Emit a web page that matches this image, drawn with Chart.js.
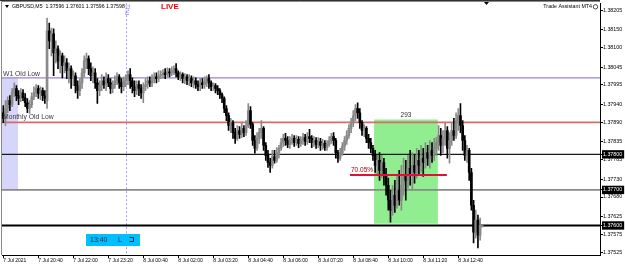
<!DOCTYPE html>
<html>
<head>
<meta charset="utf-8">
<script src="https://cdn.jsdelivr.net/npm/chart.js@4.4.1/dist/chart.umd.min.js"></script>
<style>
  html, body { margin: 0; padding: 0; background: #fff; overflow: hidden; }
  #wrap { width: 625px; height: 265px; }
</style>
</head>
<body>
<div id="wrap"><canvas id="myChart" width="625" height="265"></canvas></div>
<script>
// GBPUSD M5, one entry per bar (bar 0 = 7 Jul 19:20)
const opens = [
  1.37917, 1.37901, 1.37929, 1.37951, 1.37940, 1.37973, 1.37985, 1.37965, 1.37957, 1.37973,
  1.37959, 1.37945, 1.37929, 1.37940, 1.37962, 1.37973, 1.37985, 1.37971, 1.37979, 1.37965,
  1.37951, 1.38147, 1.38119, 1.38139, 1.38085, 1.38097, 1.38063, 1.38077, 1.38049, 1.38057,
  1.38035, 1.38041, 1.38013, 1.38021, 1.37993, 1.37979, 1.38001, 1.38029, 1.38063, 1.38069,
  1.38041, 1.38021, 1.38029, 1.38001, 1.37979, 1.37993, 1.38007, 1.37996, 1.38013, 1.38001,
  1.37985, 1.37996, 1.38007, 1.38018, 1.38001, 1.37990, 1.38007, 1.38013, 1.38024, 1.38007,
  1.37990, 1.37979, 1.37996, 1.37985, 1.37973, 1.37990, 1.37996, 1.38007, 1.38001, 1.38013,
  1.38018, 1.38013, 1.38021, 1.38024, 1.38029, 1.38024, 1.38032, 1.38029, 1.38035, 1.38041,
  1.38029, 1.38018, 1.38024, 1.38013, 1.38018, 1.38007, 1.38013, 1.38001, 1.38007, 1.37996,
  1.37990, 1.38001, 1.37996, 1.38007, 1.38013, 1.38001, 1.37990, 1.37993, 1.37985, 1.37979,
  1.37968, 1.37957, 1.37929, 1.37909, 1.37881, 1.37889, 1.37861, 1.37845, 1.37867, 1.37856,
  1.37873, 1.37861, 1.37881, 1.37923, 1.37884, 1.37839, 1.37817, 1.37845, 1.37861, 1.37873,
  1.37825, 1.37797, 1.37777, 1.37769, 1.37794, 1.37783, 1.37805, 1.37817, 1.37833, 1.37845,
  1.37839, 1.37828, 1.37839, 1.37845, 1.37833, 1.37842, 1.37831, 1.37839, 1.37847, 1.37836,
  1.37850, 1.37845, 1.37833, 1.37839, 1.37828, 1.37836, 1.37825, 1.37831, 1.37819, 1.37828,
  1.37839, 1.37850, 1.37839, 1.37805, 1.37789, 1.37805, 1.37822, 1.37839, 1.37853, 1.37873,
  1.37889, 1.37909, 1.37929, 1.37917, 1.37889, 1.37867, 1.37873, 1.37845, 1.37833, 1.37817,
  1.37797, 1.37769, 1.37783, 1.37755, 1.37777, 1.37741, 1.37713, 1.37671, 1.37643, 1.37685,
  1.37657, 1.37699, 1.37671, 1.37713, 1.37741, 1.37727, 1.37761, 1.37741, 1.37769, 1.37749,
  1.37783, 1.37769, 1.37789, 1.37777, 1.37805, 1.37789, 1.37811, 1.37797, 1.37817, 1.37833,
  1.37853, 1.37825, 1.37845, 1.37867, 1.37817, 1.37839, 1.37867, 1.37853, 1.37895, 1.37909,
  1.37881, 1.37839, 1.37797, 1.37811, 1.37749, 1.37657, 1.37581, 1.37615, 1.37573, 1.37596
];
const highs = [
  1.37937, 1.37951, 1.37962, 1.37965, 1.37985, 1.38001, 1.37993, 1.37979, 1.37985, 1.37982,
  1.37971, 1.37957, 1.37951, 1.37973, 1.37990, 1.37996, 1.37993, 1.37990, 1.37987, 1.37979,
  1.38183, 1.38169, 1.38155, 1.38153, 1.38119, 1.38105, 1.38091, 1.38085, 1.38077, 1.38069,
  1.38057, 1.38049, 1.38035, 1.38029, 1.38007, 1.38013, 1.38041, 1.38077, 1.38085, 1.38077,
  1.38057, 1.38046, 1.38041, 1.38013, 1.38007, 1.38024, 1.38018, 1.38029, 1.38024, 1.38013,
  1.38007, 1.38021, 1.38029, 1.38024, 1.38013, 1.38018, 1.38024, 1.38035, 1.38041, 1.38015,
  1.38007, 1.38007, 1.38007, 1.37996, 1.38001, 1.38013, 1.38018, 1.38018, 1.38024, 1.38029,
  1.38029, 1.38035, 1.38035, 1.38038, 1.38041, 1.38043, 1.38041, 1.38046, 1.38049, 1.38055,
  1.38035, 1.38032, 1.38029, 1.38027, 1.38024, 1.38024, 1.38021, 1.38018, 1.38015, 1.38007,
  1.38013, 1.38013, 1.38018, 1.38021, 1.38024, 1.38007, 1.38001, 1.37999, 1.37993, 1.37985,
  1.37973, 1.37962, 1.37937, 1.37917, 1.37901, 1.37895, 1.37873, 1.37881, 1.37878, 1.37887,
  1.37881, 1.37895, 1.37943, 1.37934, 1.37889, 1.37853, 1.37861, 1.37873, 1.37895, 1.37878,
  1.37833, 1.37811, 1.37789, 1.37811, 1.37811, 1.37819, 1.37825, 1.37845, 1.37856, 1.37859,
  1.37850, 1.37850, 1.37856, 1.37853, 1.37853, 1.37850, 1.37850, 1.37859, 1.37856, 1.37861,
  1.37870, 1.37853, 1.37850, 1.37847, 1.37847, 1.37845, 1.37842, 1.37839, 1.37839, 1.37850,
  1.37859, 1.37861, 1.37845, 1.37811, 1.37817, 1.37833, 1.37850, 1.37867, 1.37884, 1.37901,
  1.37923, 1.37940, 1.37945, 1.37929, 1.37895, 1.37884, 1.37878, 1.37856, 1.37845, 1.37825,
  1.37811, 1.37797, 1.37805, 1.37797, 1.37789, 1.37761, 1.37733, 1.37699, 1.37713, 1.37727,
  1.37741, 1.37755, 1.37769, 1.37789, 1.37783, 1.37797, 1.37811, 1.37805, 1.37797, 1.37817,
  1.37811, 1.37825, 1.37817, 1.37833, 1.37825, 1.37839, 1.37833, 1.37845, 1.37847, 1.37881,
  1.37873, 1.37867, 1.37887, 1.37878, 1.37861, 1.37889, 1.37901, 1.37917, 1.37929, 1.37943,
  1.37895, 1.37853, 1.37825, 1.37817, 1.37761, 1.37671, 1.37643, 1.37629, 1.37621, 1.37601
];
const lows = [
  1.37889, 1.37881, 1.37917, 1.37923, 1.37934, 1.37962, 1.37951, 1.37940, 1.37948, 1.37951,
  1.37934, 1.37917, 1.37915, 1.37931, 1.37954, 1.37962, 1.37957, 1.37954, 1.37951, 1.37943,
  1.37929, 1.38097, 1.38077, 1.38021, 1.38057, 1.38041, 1.38029, 1.38015, 1.38029, 1.38013,
  1.38001, 1.37985, 1.37993, 1.37973, 1.37957, 1.37965, 1.37985, 1.38018, 1.38041, 1.38024,
  1.38007, 1.38001, 1.37985, 1.37943, 1.37965, 1.37979, 1.37985, 1.37979, 1.37990, 1.37971,
  1.37973, 1.37985, 1.37996, 1.37985, 1.37973, 1.37979, 1.37990, 1.37996, 1.37985, 1.37973,
  1.37962, 1.37968, 1.37965, 1.37957, 1.37945, 1.37979, 1.37985, 1.37990, 1.37990, 1.38001,
  1.38001, 1.38004, 1.38013, 1.38015, 1.38013, 1.38018, 1.38018, 1.38021, 1.38024, 1.38018,
  1.38010, 1.38007, 1.38001, 1.37999, 1.37996, 1.37993, 1.37990, 1.37987, 1.37985, 1.37979,
  1.37979, 1.37985, 1.37985, 1.37990, 1.37985, 1.37979, 1.37979, 1.37973, 1.37968, 1.37957,
  1.37945, 1.37917, 1.37895, 1.37867, 1.37861, 1.37845, 1.37831, 1.37839, 1.37845, 1.37847,
  1.37850, 1.37853, 1.37875, 1.37873, 1.37825, 1.37803, 1.37811, 1.37831, 1.37845, 1.37811,
  1.37783, 1.37763, 1.37749, 1.37761, 1.37775, 1.37777, 1.37789, 1.37811, 1.37822, 1.37825,
  1.37819, 1.37817, 1.37828, 1.37822, 1.37825, 1.37819, 1.37822, 1.37828, 1.37825, 1.37828,
  1.37833, 1.37819, 1.37822, 1.37817, 1.37819, 1.37811, 1.37814, 1.37811, 1.37811, 1.37822,
  1.37831, 1.37825, 1.37789, 1.37777, 1.37783, 1.37797, 1.37811, 1.37828, 1.37845, 1.37861,
  1.37878, 1.37895, 1.37901, 1.37873, 1.37853, 1.37850, 1.37833, 1.37817, 1.37805, 1.37783,
  1.37749, 1.37741, 1.37727, 1.37733, 1.37713, 1.37685, 1.37643, 1.37609, 1.37629, 1.37637,
  1.37649, 1.37657, 1.37643, 1.37685, 1.37671, 1.37705, 1.37713, 1.37699, 1.37719, 1.37733,
  1.37741, 1.37749, 1.37738, 1.37761, 1.37769, 1.37761, 1.37777, 1.37783, 1.37797, 1.37811,
  1.37797, 1.37805, 1.37825, 1.37789, 1.37775, 1.37825, 1.37839, 1.37845, 1.37867, 1.37861,
  1.37811, 1.37783, 1.37777, 1.37727, 1.37643, 1.37551, 1.37564, 1.37537, 1.37559, 1.37596
];
const closes = [
  1.37901, 1.37929, 1.37951, 1.37940, 1.37973, 1.37985, 1.37965, 1.37957, 1.37973, 1.37959,
  1.37945, 1.37929, 1.37940, 1.37962, 1.37973, 1.37985, 1.37971, 1.37979, 1.37965, 1.37957,
  1.38147, 1.38119, 1.38139, 1.38085, 1.38097, 1.38063, 1.38077, 1.38049, 1.38057, 1.38035,
  1.38041, 1.38013, 1.38021, 1.37993, 1.37979, 1.38001, 1.38029, 1.38063, 1.38069, 1.38041,
  1.38021, 1.38029, 1.38001, 1.37979, 1.37993, 1.38007, 1.37996, 1.38013, 1.38001, 1.37985,
  1.37996, 1.38007, 1.38018, 1.38001, 1.37990, 1.38007, 1.38013, 1.38024, 1.38007, 1.37990,
  1.37979, 1.37996, 1.37985, 1.37973, 1.37990, 1.37996, 1.38007, 1.38001, 1.38013, 1.38018,
  1.38013, 1.38021, 1.38024, 1.38029, 1.38024, 1.38032, 1.38029, 1.38035, 1.38041, 1.38029,
  1.38018, 1.38024, 1.38013, 1.38018, 1.38007, 1.38013, 1.38001, 1.38007, 1.37996, 1.37990,
  1.38001, 1.37996, 1.38007, 1.38013, 1.38001, 1.37990, 1.37993, 1.37985, 1.37979, 1.37968,
  1.37957, 1.37929, 1.37909, 1.37881, 1.37889, 1.37861, 1.37845, 1.37867, 1.37856, 1.37873,
  1.37861, 1.37881, 1.37923, 1.37884, 1.37839, 1.37817, 1.37845, 1.37861, 1.37873, 1.37825,
  1.37797, 1.37777, 1.37769, 1.37794, 1.37783, 1.37805, 1.37817, 1.37833, 1.37845, 1.37839,
  1.37828, 1.37839, 1.37845, 1.37833, 1.37842, 1.37831, 1.37839, 1.37847, 1.37836, 1.37850,
  1.37845, 1.37833, 1.37839, 1.37828, 1.37836, 1.37825, 1.37831, 1.37819, 1.37828, 1.37839,
  1.37850, 1.37839, 1.37805, 1.37789, 1.37805, 1.37822, 1.37839, 1.37853, 1.37873, 1.37889,
  1.37909, 1.37929, 1.37917, 1.37889, 1.37867, 1.37873, 1.37845, 1.37833, 1.37817, 1.37797,
  1.37769, 1.37783, 1.37755, 1.37777, 1.37741, 1.37713, 1.37671, 1.37643, 1.37685, 1.37657,
  1.37699, 1.37671, 1.37713, 1.37741, 1.37727, 1.37761, 1.37741, 1.37769, 1.37749, 1.37783,
  1.37769, 1.37789, 1.37777, 1.37805, 1.37789, 1.37811, 1.37797, 1.37817, 1.37833, 1.37853,
  1.37825, 1.37845, 1.37867, 1.37817, 1.37839, 1.37867, 1.37853, 1.37895, 1.37909, 1.37881,
  1.37839, 1.37797, 1.37811, 1.37749, 1.37657, 1.37581, 1.37615, 1.37573, 1.37601, 1.37598
];

// time axis: one label every 16 bars (80 minutes)
const timeTickBars = [0, 16, 32, 48, 64, 80, 96, 112, 128, 144, 160, 176, 192, 208];
const timeTickLabels = ["7 Jul 2021", "7 Jul 20:40", "7 Jul 22:00", "7 Jul 23:20", "8 Jul 00:40",
  "8 Jul 02:00", "8 Jul 03:20", "8 Jul 04:40", "8 Jul 06:00", "8 Jul 07:20", "8 Jul 08:40",
  "8 Jul 10:00", "8 Jul 11:20", "8 Jul 12:40"];

// price axis
const priceTicks = [1.38205, 1.38150, 1.38100, 1.38045, 1.37995, 1.37940, 1.37890, 1.37835,
  1.37785, 1.37730, 1.37680, 1.37625, 1.37575, 1.37525];
const boxedTicks = [1.37800, 1.37700, 1.37600];
const barRange = [-0.6, 272.8];
const priceRange = [1.37517, 1.38225];

// objects on the chart
const w1OldLow = 1.38015;
const monthlyOldLow = 1.37890;
const levelLines = [1.37800, 1.37700, 1.37600];
const separatorBar = 56; // Thu 00:00
const zoneBars = [-0.6, 6.8];
const zonePrices = [1.38015, 1.37700];
const rangeBars = [169.5, 198.7];
const rangePrices = [1.37898, 1.37605];
const rangeLabel = "293";
const fiboBars = [158.5, 202.8];
const fiboPrice = 1.37742;
const fiboLabel = "70.05%";
const titleText = "GBPUSD,M5  1.37596 1.37601 1.37596 1.37598";

const FONT = "'Liberation Sans', Arial, sans-serif";
const idx = opens.map((o, i) => i);
const candleColors = idx.map(i => closes[i] < opens[i] ? "#000000" : "#8a8a8a");

const hline = (value, color, width, order) => ({
    type: "line",
    data: [{x: barRange[0], y: value}, {x: barRange[1], y: value}],
    borderColor: color,
    borderWidth: width,
    pointRadius: 0,
    fill: false,
    order: order
});
const box = (bars, prices, color, order) => ({
    type: "line",
    data: [{x: bars[0], y: prices[0]}, {x: bars[1], y: prices[0]}],
    borderWidth: 0,
    borderColor: "rgba(0,0,0,0)",
    backgroundColor: color,
    pointRadius: 0,
    fill: {value: prices[1]},
    order: order
});

const overlay = {
    id: "overlay",
    beforeDatasetsDraw(chart) {
        const {ctx, chartArea: a, scales: {x}} = chart;
        ctx.save();
        // period separator
        const sx = Math.round(x.getPixelForValue(separatorBar)) + 0.5;
        ctx.strokeStyle = "#a999e8";
        ctx.lineWidth = 1;
        ctx.setLineDash([2, 2]);
        ctx.beginPath();
        ctx.moveTo(sx, a.top);
        ctx.lineTo(sx, a.bottom);
        ctx.stroke();
        ctx.restore();
    },
    afterDatasetsDraw(chart) {
        const {ctx, chartArea: a, scales: {x, y}} = chart;
        ctx.save();
        // frame
        ctx.strokeStyle = "#333";
        ctx.lineWidth = 1;
        ctx.beginPath();
        ctx.moveTo(0, 0.5); ctx.lineTo(a.right, 0.5);
        ctx.stroke();
        ctx.strokeStyle = "#888";
        ctx.beginPath();
        ctx.moveTo(1.5, a.bottom); ctx.lineTo(1.5, 1.5); ctx.lineTo(a.right, 1.5);
        ctx.stroke();

        ctx.textBaseline = "middle";
        // header
        ctx.fillStyle = "#000";
        ctx.beginPath();
        ctx.moveTo(5, 5); ctx.lineTo(9, 5); ctx.lineTo(7, 8); ctx.closePath();
        ctx.fill();
        ctx.font = "5.2px " + FONT;
        ctx.fillText(titleText, 12, 7);
        ctx.fillStyle = "#ff0000";
        ctx.font = "bold 8px " + FONT;
        ctx.fillText("LIVE", 161, 7);
        ctx.fillStyle = "#000";
        ctx.font = "5.3px " + FONT;
        ctx.textAlign = "right";
        ctx.fillText("Trade Assistant MT4", 592, 7);
        ctx.textAlign = "left";
        ctx.strokeStyle = "#000";
        ctx.lineWidth = 0.7;
        ctx.beginPath();
        ctx.arc(595.5, 6.8, 2.2, 0, Math.PI * 2);
        ctx.stroke();
        // chart shift marker
        ctx.beginPath();
        ctx.moveTo(484, 2); ctx.lineTo(489, 2); ctx.lineTo(486.5, 5); ctx.closePath();
        ctx.fill();

        // separator day text
        const sx = x.getPixelForValue(separatorBar);
        ctx.save();
        ctx.translate(sx + 1, 4);
        ctx.rotate(Math.PI / 2);
        ctx.fillStyle = "#9a88e6";
        ctx.font = "6.5px " + FONT;
        ctx.textBaseline = "middle";
        ctx.fillText("Thu", 0, 0);
        ctx.restore();

        // level labels
        ctx.textBaseline = "alphabetic";
        ctx.fillStyle = "#3a3a3a";
        ctx.font = "6.8px " + FONT;
        ctx.fillText("W1 Old Low", a.left + 1, y.getPixelForValue(w1OldLow) - 2);
        ctx.fillText("Monthly Old Low", a.left + 1, y.getPixelForValue(monthlyOldLow) - 3);
        ctx.font = "6.5px " + FONT;
        ctx.textAlign = "center";
        ctx.fillStyle = "#333";
        ctx.fillText(rangeLabel, x.getPixelForValue((rangeBars[0] + rangeBars[1]) / 2), y.getPixelForValue(rangePrices[0]) - 2);
        ctx.textAlign = "left";
        ctx.fillStyle = "#a00000";
        ctx.fillText(fiboLabel, x.getPixelForValue(fiboBars[0]) + 1, y.getPixelForValue(fiboPrice) - 2.5);

        // trade panel
        ctx.fillStyle = "#00bfff";
        ctx.fillRect(a.left + 84, a.bottom - 21, 54, 12);
        ctx.fillStyle = "#1a2a40";
        ctx.font = "7px " + FONT;
        ctx.textBaseline = "middle";
        ctx.fillText("13:40", a.left + 88, a.bottom - 15);
        ctx.fillText("L", a.left + 116, a.bottom - 15);
        ctx.strokeStyle = "#1a2a40";
        ctx.lineWidth = 1;
        ctx.beginPath();
        ctx.moveTo(a.left + 127.5, a.bottom - 17.5);
        ctx.lineTo(a.left + 131.5, a.bottom - 17.5);
        ctx.lineTo(a.left + 131.5, a.bottom - 13.5);
        ctx.lineTo(a.left + 127.5, a.bottom - 13.5);
        ctx.stroke();
        ctx.restore();
    }
};

Chart.defaults.font.family = FONT;
var ctx = document.getElementById("myChart");
var config = {
    type: "bar",
    data: {
        datasets: [
            {
                label: "wicks",
                data: idx.map(i => ({x: i, y: [lows[i], highs[i]]})),
                backgroundColor: candleColors,
                barThickness: 1,
                grouped: false,
                borderWidth: 0,
                order: 2
            },
            {
                label: "bodies",
                data: idx.map(i => ({x: i, y: [opens[i], closes[i]]})),
                backgroundColor: candleColors,
                barThickness: 2,
                minBarLength: 1,
                grouped: false,
                borderWidth: 0,
                order: 1
            },
            hline(w1OldLow, "#9b82c9", 1.3, 5),
            hline(monthlyOldLow, "#d86a6a", 1.8, 5),
            hline(levelLines[0], "#1a1a1a", 1.2, 5),
            hline(levelLines[1], "#8a8a8a", 1.6, 5),
            hline(levelLines[2], "#000000", 1.8, 5),
            {
                type: "line",
                data: [{x: fiboBars[0], y: fiboPrice}, {x: fiboBars[1], y: fiboPrice}],
                borderColor: "#e0103c",
                borderWidth: 2,
                pointRadius: 0,
                fill: false,
                order: 0
            },
            box(rangeBars, rangePrices, "#90ee90", 9),
            box(zoneBars, zonePrices, "#d6d6fa", 10)
        ]
    },
    options: {
        responsive: false,
        animation: false,
        layout: {padding: {left: 2, top: 2, right: 0, bottom: 0}},
        plugins: {legend: {display: false}, tooltip: {enabled: false}},
        scales: {
            x: {
                type: "linear",
                position: "bottom",
                min: barRange[0],
                max: barRange[1],
                offset: false,
                bounds: "data",
                afterBuildTicks: s => { s.ticks = timeTickBars.map(v => ({value: v})); },
                afterFit: s => { s.height = 10; },
                grid: {display: true, drawOnChartArea: false, drawTicks: true, tickLength: 3, tickColor: "#000", offset: false},
                border: {display: true, color: "#000", width: 1},
                ticks: {
                    autoSkip: false,
                    maxRotation: 0,
                    align: "start",
                    padding: 0,
                    color: "#000",
                    font: {size: 5},
                    callback: v => timeTickLabels[timeTickBars.indexOf(v)]
                }
            },
            y: {
                type: "linear",
                position: "right",
                min: priceRange[0],
                max: priceRange[1],
                beginAtZero: false,
                bounds: "data",
                afterBuildTicks: s => { s.ticks = priceTicks.concat(boxedTicks).map(v => ({value: v})); },
                afterFit: s => { s.width = 25; },
                grid: {display: true, drawOnChartArea: false, drawTicks: true, tickLength: 3, tickColor: "#000"},
                border: {display: true, color: "#000", width: 1},
                ticks: {
                    autoSkip: false,
                    padding: 0,
                    font: {size: 5.3},
                    color: c => boxedTicks.includes(c.tick.value) ? "#fff" : "#000",
                    showLabelBackdrop: c => boxedTicks.includes(c.tick.value),
                    backdropColor: "#000",
                    backdropPadding: {top: 1, bottom: 1, left: 1, right: 2},
                    callback: v => v.toFixed(5)
                }
            }
        }
    },
    plugins: [overlay]
};
var myChart = new Chart(ctx, config);
</script>
</body>
</html>
